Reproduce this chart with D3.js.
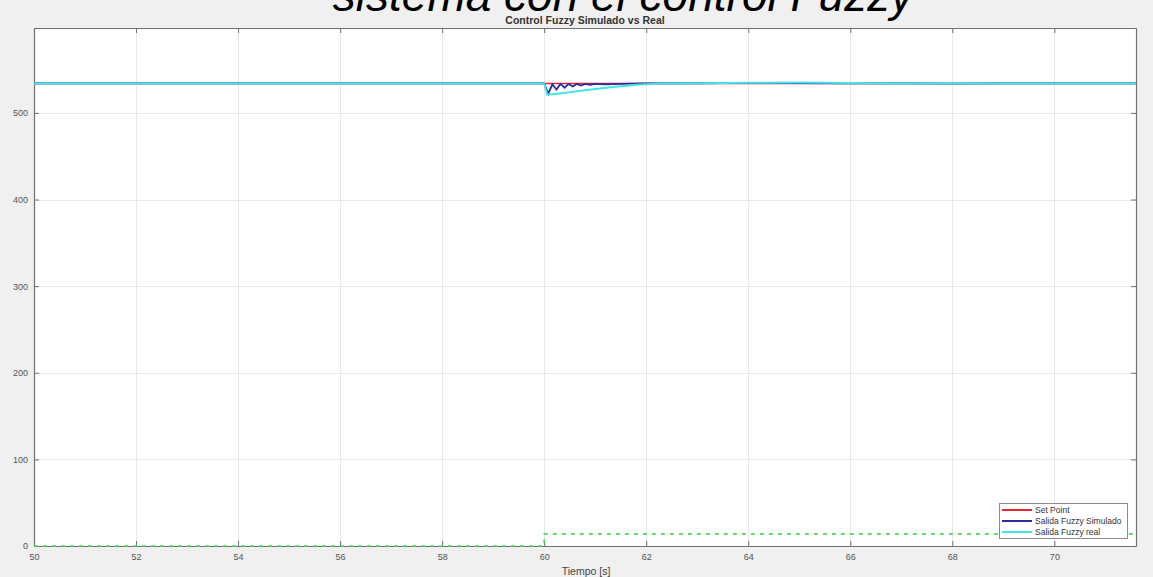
<!DOCTYPE html>
<html>
<head>
<meta charset="utf-8">
<script src="https://cdn.jsdelivr.net/npm/d3@7"></script>
<style>
  html, body { margin: 0; padding: 0; background: #f0f0f0; }
  svg { display: block; font-family: "Liberation Sans", Arial, sans-serif; }
</style>
</head>
<body>
<svg id="chart" width="1153" height="577"></svg>
<script>
// Axis ticks
const xTicks = [50, 52, 54, 56, 58, 60, 62, 64, 66, 68, 70];
const yTicks = [0, 100, 200, 300, 400, 500];

// Set point (constant)
const tSetPoint = [50, 71.6];
const ySetPoint = [534, 534];

// Simulated fuzzy output: oscillating recovery after the step at t = 60 s
const tSim = [50, 60.0, 60.08, 60.16, 60.24, 60.32, 60.40, 60.48, 60.56, 60.64, 60.72, 60.80, 60.90, 61.0, 61.2, 61.5, 62, 63, 64, 65, 66, 67, 68, 69, 70, 71.6];
const ySim = [534, 534, 522, 533, 527, 533.5, 529, 533.5, 530.5, 533.5, 531.5, 533.5, 532.5, 533.5, 533, 533.5, 534, 534.2, 534.6, 534.4, 534, 534, 533.8, 534, 534, 534];

// Real fuzzy output: deeper dip with slow recovery
const tReal = [50, 60.0, 60.06, 60.3, 60.8, 61.3, 61.8, 62.3, 63, 64, 65, 66, 67, 68, 69, 70, 71.6];
const yReal = [534, 534, 521, 522.5, 526, 529.5, 532.5, 534, 534.3, 534.8, 535.2, 534.6, 534, 534, 534, 534, 534];

// Disturbance / control signal (green dashed)
const tDist = [50, 60.0, 60.0, 71.6];
const yDist = [0, 0, 14, 14];

const legendLabels = ["Set Point", "Salida Fuzzy Simulado", "Salida Fuzzy real"];
const legendColors = ["#e8242c", "#2c2c9c", "#44e4e8"];

const svg = d3.select("#chart");
const L = 34, R = 1136, T = 28, B = 546;

const x = d3.scaleLinear().domain([50, 71.6]).range([L, R]);
const y = d3.scaleLinear().domain([0, 598]).range([B, T]);

// Plot area
svg.append("rect").attr("x", L).attr("y", T).attr("width", R - L).attr("height", B - T).attr("fill", "#ffffff");

// Grid
const grid = svg.append("g").attr("stroke", "#e8e8e8").attr("stroke-width", 1);
grid.selectAll("line.gx").data(xTicks).join("line")
  .attr("x1", d => Math.round(x(d)) + 0.5).attr("x2", d => Math.round(x(d)) + 0.5)
  .attr("y1", T).attr("y2", B);
grid.selectAll("line.gy").data(yTicks).join("line")
  .attr("y1", d => Math.round(y(d)) + 0.5).attr("y2", d => Math.round(y(d)) + 0.5)
  .attr("x1", L).attr("x2", R);

// Axes (ticks pointing inward, box on all sides)
const tickLen = 5;
const axisColor = "#707070";
const gb = svg.append("g").attr("transform", `translate(0,${B})`)
  .call(d3.axisBottom(x).tickValues(xTicks).tickSizeInner(-tickLen).tickSizeOuter(0).tickPadding(8));
const gt = svg.append("g").attr("transform", `translate(0,${T})`)
  .call(d3.axisTop(x).tickValues(xTicks).tickSizeInner(-tickLen).tickSizeOuter(0).tickFormat(""));
const gl = svg.append("g").attr("transform", `translate(${L},0)`)
  .call(d3.axisLeft(y).tickValues(yTicks).tickSizeInner(-tickLen).tickSizeOuter(0).tickPadding(6));
const gr = svg.append("g").attr("transform", `translate(${R},0)`)
  .call(d3.axisRight(y).tickValues(yTicks).tickSizeInner(-tickLen).tickSizeOuter(0).tickFormat(""));
[gb, gt, gl, gr].forEach(g => {
  g.selectAll("path.domain").attr("stroke", axisColor).attr("stroke-width", 1.2);
  g.selectAll(".tick line").attr("stroke", axisColor);
  g.selectAll(".tick text").attr("fill", "#555").attr("font-size", 9).attr("font-family", "Liberation Sans, Arial, sans-serif");
});

// Lines
const line = (ts, vs) => d3.line().x((d, i) => x(ts[i])).y((d, i) => y(vs[i]))(ts);

svg.append("path").attr("d", line(tDist, yDist)).attr("fill", "none")
  .attr("stroke", "#4cd65a").attr("stroke-width", 1.6).attr("stroke-dasharray", "4,5");
svg.append("path").attr("d", line(tSetPoint, ySetPoint)).attr("fill", "none")
  .attr("stroke", legendColors[0]).attr("stroke-width", 1.5);
svg.append("path").attr("d", line(tSim, ySim)).attr("fill", "none")
  .attr("stroke", legendColors[1]).attr("stroke-width", 1.8);
svg.append("path").attr("d", line(tReal, yReal)).attr("fill", "none")
  .attr("stroke", legendColors[2]).attr("stroke-width", 2);

// Axis label
svg.append("text").attr("x", 586).attr("y", 575).attr("text-anchor", "middle")
  .attr("font-size", 10.5).attr("fill", "#444").text("Tiempo [s]");

// Title
svg.append("text").attr("x", 585).attr("y", 24).attr("text-anchor", "middle")
  .attr("font-size", 10.5).attr("font-weight", "bold").attr("fill", "#333")
  .text("Control Fuzzy Simulado vs Real");

// Caption text across the top
svg.append("text").attr("x", 623).attr("y", 11).attr("text-anchor", "middle")
  .attr("font-size", 46).attr("font-style", "italic").attr("fill", "#000")
  .text("sistema con el control Fuzzy");

// Legend
const lg = svg.append("g");
lg.append("rect").attr("x", 999.5).attr("y", 503.5).attr("width", 128).attr("height", 35)
  .attr("fill", "#ffffff").attr("stroke", "#8a8a8a").attr("stroke-width", 1);
legendLabels.forEach((lab, i) => {
  const yy = 510 + i * 11;
  lg.append("line").attr("x1", 1002).attr("x2", 1032).attr("y1", yy).attr("y2", yy)
    .attr("stroke", legendColors[i]).attr("stroke-width", 2);
  lg.append("text").attr("x", 1035).attr("y", yy + 3).attr("font-size", 8.5).attr("fill", "#333").text(lab);
});
</script>
</body>
</html>
